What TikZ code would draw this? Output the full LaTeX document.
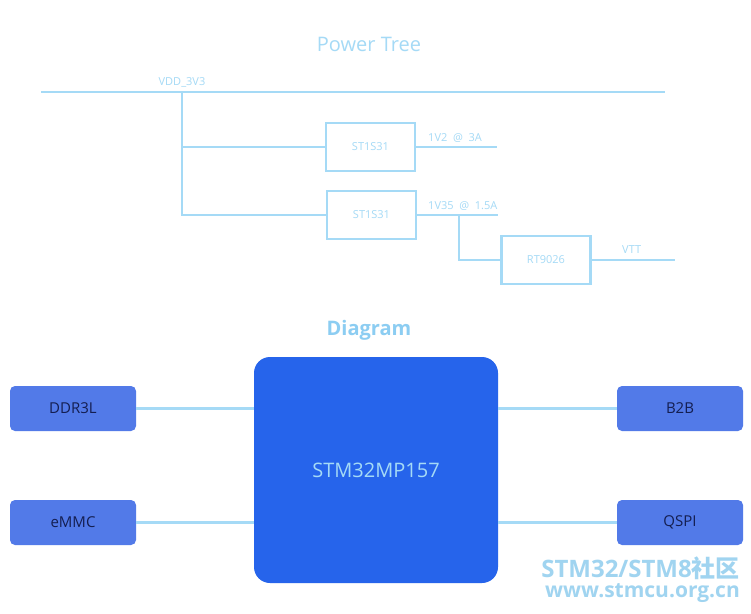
\documentclass[tikz,border=0pt]{standalone}
\usepackage{fontspec}
\setmainfont{Open Sans}
\newfontfamily\cjk{Noto Sans CJK SC}
\begin{document}
\begin{tikzpicture}[x=1pt,y=-1pt,
  wire/.style={draw=lb,line width=2.5pt},
  reg/.style={draw=lb,line width=2.5pt,minimum width=89pt,minimum height=48pt,font=\fontsize{11}{13}\selectfont,text=lb},
  lbl/.style={font=\fontsize{11}{13}\selectfont,text=lb,inner sep=0pt},
  io/.style={fill=iob,rounded corners=5pt,minimum width=126pt,minimum height=45pt,font=\fontsize{15}{18}\selectfont,text=navy},
  line/.style={draw=lb,line width=2.5pt}]
\definecolor{lb}{RGB}{165,218,246}
\definecolor{tb}{RGB}{140,205,242}
\definecolor{mb}{RGB}{38,100,235}
\definecolor{iob}{RGB}{82,122,232}
\definecolor{navy}{RGB}{20,30,80}
\definecolor{wm}{RGB}{160,212,240}
\useasboundingbox[fill=white] (0,0) rectangle (751,613);
\node[font=\fontsize{20}{24}\selectfont,text=lb] (pt) at (369,44) {Power Tree};
\coordinate (va) at (41,92);
\coordinate (vb) at (665,92);
\coordinate (vj) at (182,92);
\draw[wire] (va) -- (vb);
\node[lbl] (vl) at (182,82) {VDD\_3V3};
\node[reg] (r1) at (370.5,147) {ST1S31};
\node[reg] (r2) at (371.5,215) {ST1S31};
\node[reg] (r3) at (546,260) {RT9026};
\coordinate (o1) at (497,147);
\coordinate (o2) at (498,215);
\coordinate (j2) at (459,215);
\coordinate (o3) at (675,260);
\draw[wire] (vj) |- (r1.west);
\draw[wire] (vj) |- (r2.west);
\draw[wire] (r1.east) -- (o1);
\draw[wire] (r2.east) -- (o2);
\draw[wire] (j2) |- (r3.west);
\draw[wire] (r3.east) -- (o3);
\node[lbl,anchor=west] (l1) at (428,138) {1V2\ \ @\ \ 3A};
\node[lbl,anchor=west] (l2) at (428,206) {1V35\ \ @\ \ 1.5A};
\node[lbl,anchor=west] (l3) at (622,250) {VTT};
\node[font=\fontsize{20}{24}\selectfont\bfseries,text=tb] (dg) at (369,330) {Diagram};
\node[fill=mb,rounded corners=16pt,minimum width=244pt,minimum height=226pt,font=\fontsize{20}{24}\selectfont,text=lb] (mcu) at (376,470) {STM32MP157};
\node[io] (ddr) at (73,408.5) {DDR3L};
\node[io] (emmc) at (73,522.5) {eMMC};
\node[io] (b2b) at (680,408.5) {B2B};
\node[io] (qspi) at (680,522.5) {QSPI};
\draw[line] (ddr.east) -- (ddr.east -| mcu.west);
\draw[line] (emmc.east) -- (emmc.east -| mcu.west);
\draw[line] (b2b.west) -- (b2b.west -| mcu.east);
\draw[line] (qspi.west) -- (qspi.west -| mcu.east);
\node[font=\fontsize{24}{26}\selectfont\bfseries,text=wm,anchor=east,inner sep=0pt] (w1) at (740,568) {STM32/STM8{\cjk 社区}};
\node[font=\fontsize{21}{24}\selectfont\bfseries,text=wm,anchor=east,inner sep=0pt] (w2) at (740,593) {www.stmcu.org.cn};
\end{tikzpicture}
\end{document}
